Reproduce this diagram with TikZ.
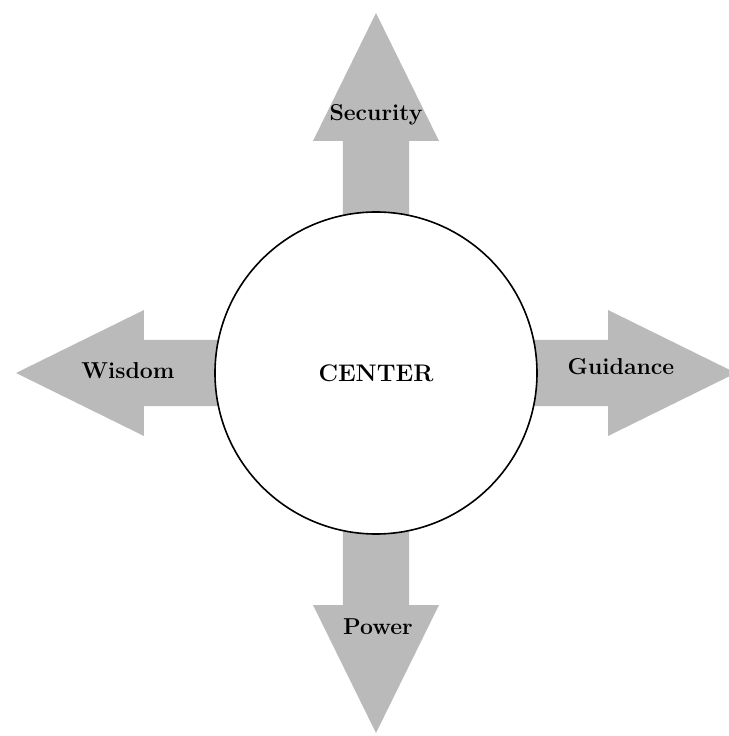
\documentclass[tikz,border=0pt]{standalone}
\usepackage{fontspec}
\usepackage{tikz}

\begin{document}
\begin{tikzpicture}[x=1pt,y=1pt,
    arr/.style={fill=black!27},
    lbl/.style={font=\fontsize{23}{26}\selectfont\bfseries}]
    \useasboundingbox (-376,-363) rectangle (352,373);
    % the four arrows, pointing out from the middle
    \foreach \ang in {0,90,180,270}
        \fill[arr,rotate=\ang] (0,-33) -- (232,-33) -- (232,-63) -- (360,0)
            -- (232,63) -- (232,33) -- (0,33) -- cycle;
    \node at (0,0) [circle,draw,fill=white,line width=1.6pt,minimum size=322pt,
        font=\fontsize{24}{27}\selectfont\bfseries] (c) {CENTER};
    \node at (0,258) [lbl] (sec) {Security};
    \node at (-248,2) [lbl] (wis) {Wisdom};
    \node at (245,6) [lbl] (gui) {Guidance};
    \node at (2,-254) [lbl] (pow) {Power};
\end{tikzpicture}
\end{document}
